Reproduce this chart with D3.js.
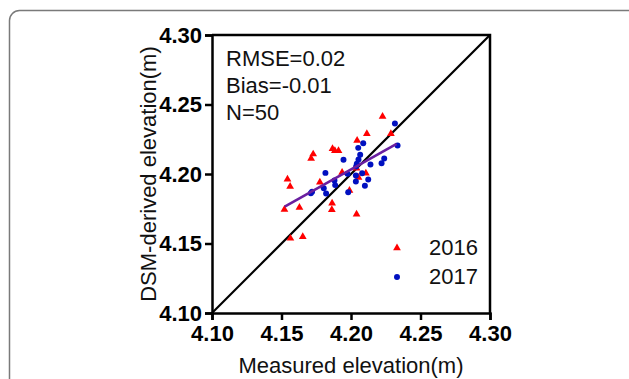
<!DOCTYPE html>
<html>
<head>
<meta charset="utf-8">
<script src="https://cdnjs.cloudflare.com/ajax/libs/d3/7.8.5/d3.min.js"></script>
<style>
    body { margin: 0; background: #fff; }
    svg { display: block; font-family: "Liberation Sans", Arial, sans-serif; }
</style>
</head>
<body>
<div id="chart-container"></div>
<script>
// measured vs DSM-derived, 2016 (triangles)
var measured2016 = [4.2227, 4.2287, 4.2114, 4.2044, 4.1867, 4.1884, 4.1910, 4.1728, 4.1713, 4.1543,
    4.1562, 4.1776, 4.1936, 4.2040, 4.2054, 4.2107, 4.1989, 4.1521, 4.1629, 4.1864,
    4.1862, 4.2040, 4.1564, 4.1653];
var dsm2016 = [4.2413, 4.2289, 4.2289, 4.2241, 4.2181, 4.2167, 4.2167, 4.2143, 4.2111, 4.1963,
    4.1910, 4.1941, 4.2011, 4.2042, 4.1975, 4.2006, 4.1881, 4.1745, 4.1759, 4.1790,
    4.1743, 4.1711, 4.1537, 4.1549];

// 2017 (circles)
var measured2017 = [4.2316, 4.2335, 4.2088, 4.2052, 4.2066, 4.2054, 4.2042, 4.2037, 4.1946, 4.1816,
    4.1975, 4.2035, 4.2080, 4.2140, 4.2220, 4.2239, 4.2124, 4.2035, 4.2100, 4.1881,
    4.1886, 4.1804, 4.1821, 4.1720, 4.1711, 4.1980];
var dsm2017 = [4.2363, 4.2205, 4.2222, 4.2188, 4.2138, 4.2104, 4.2073, 4.2054, 4.2102, 4.2008,
    4.2001, 4.1989, 4.2006, 4.2068, 4.2078, 4.2111, 4.1960, 4.1946, 4.1915, 4.1953,
    4.1920, 4.1898, 4.1860, 4.1872, 4.1862, 4.1869];

var fitLine = [[4.1523, 4.1766], [4.2328, 4.2217]];
var oneToOne = [[4.10, 4.10], [4.30, 4.30]];
var tickValues = [4.10, 4.15, 4.20, 4.25, 4.30];
var statsLines = ["RMSE=0.02", "Bias=-0.01", "N=50"];
var legendLabels = ["2016", "2017"];

var params = {
    w: 629,
    h: 379,
    left: 212,
    right: 490,
    top: 35,
    bottom: 313,
    fontSize: "22px"
};

var svg = d3.select("#chart-container").append("svg")
    .attr("width", params.w).attr("height", params.h);

// card frame
svg.append("rect")
    .attr("x", 9.5).attr("y", 10.5)
    .attr("width", 640).attr("height", 420)
    .attr("rx", 10).attr("ry", 10)
    .attr("fill", "#fff")
    .attr("stroke", "#7a7a7a")
    .attr("stroke-width", 1.5);

var xScale = d3.scaleLinear().domain([4.10, 4.30]).range([params.left, params.right]);
var yScale = d3.scaleLinear().domain([4.10, 4.30]).range([params.bottom, params.top]);

var xAxis = d3.axisBottom(xScale).tickValues(tickValues).tickFormat(d3.format(".2f")).tickSizeOuter(0).tickSize(7).tickPadding(5);
var yAxis = d3.axisLeft(yScale).tickValues(tickValues).tickFormat(d3.format(".2f")).tickSizeOuter(0).tickSize(7).tickPadding(3);

function styleAxis(g) {
    g.select(".domain").attr("stroke", "#000").attr("stroke-width", 2.5);
    g.selectAll(".tick line").attr("stroke", "#000").attr("stroke-width", 2.5);
    g.selectAll(".tick text")
        .attr("fill", "#000")
        .style("font-size", params.fontSize)
        .style("font-weight", "bold");
}

svg.append("g")
    .attr("class", "x-axis")
    .attr("transform", "translate(0," + params.bottom + ")")
    .call(xAxis)
    .call(styleAxis);

svg.append("g")
    .attr("class", "y-axis")
    .attr("transform", "translate(" + params.left + ",0)")
    .call(yAxis)
    .call(styleAxis);

// top and right frame edges
svg.append("path")
    .attr("d", "M" + xScale(4.10) + "," + yScale(4.30) + "H" + xScale(4.30) + "V" + yScale(4.10))
    .attr("fill", "none")
    .attr("stroke", "#000")
    .attr("stroke-width", 2.5);

var line = d3.line()
    .x(function(d) { return xScale(d[0]); })
    .y(function(d) { return yScale(d[1]); });

svg.append("path")
    .datum(oneToOne)
    .attr("d", line)
    .attr("stroke", "#000")
    .attr("stroke-width", 2.2)
    .attr("fill", "none");

var triangle = d3.symbol().type(d3.symbolTriangle).size(26);
var circle = d3.symbol().type(d3.symbolCircle).size(28);

svg.append("g").selectAll("path")
    .data(measured2016)
    .enter()
    .append("path")
    .attr("d", triangle)
    .attr("transform", function(d, i) { return "translate(" + xScale(d) + "," + yScale(dsm2016[i]) + ")"; })
    .attr("fill", "#ff0000");

svg.append("g").selectAll("path")
    .data(measured2017)
    .enter()
    .append("path")
    .attr("d", circle)
    .attr("transform", function(d, i) { return "translate(" + xScale(d) + "," + yScale(dsm2017[i]) + ")"; })
    .attr("fill", "#0010c0");

svg.append("path")
    .datum(fitLine)
    .attr("d", line)
    .attr("stroke", "#6a1fa0")
    .attr("stroke-width", 2.6)
    .attr("fill", "none");

// stats
svg.append("g").selectAll("text")
    .data(statsLines)
    .enter()
    .append("text")
    .attr("x", 226)
    .attr("y", function(d, i) { return 66 + i * 26.8; })
    .style("font-size", params.fontSize)
    .attr("fill", "#111")
    .text(function(d) { return d; });

// legend
var legend = svg.append("g");
legend.append("path")
    .attr("d", triangle)
    .attr("transform", "translate(397,248)")
    .attr("fill", "#ff0000");
legend.append("path")
    .attr("d", circle)
    .attr("transform", "translate(397,277)")
    .attr("fill", "#0010c0");
legend.selectAll("text")
    .data(legendLabels)
    .enter()
    .append("text")
    .attr("x", 429)
    .attr("y", function(d, i) { return 255 + i * 29; })
    .style("font-size", params.fontSize)
    .attr("fill", "#111")
    .text(function(d) { return d; });

// axis titles
svg.append("text")
    .attr("x", (params.left + params.right) / 2)
    .attr("y", 373)
    .attr("text-anchor", "middle")
    .style("font-size", params.fontSize)
    .attr("fill", "#111")
    .text("Measured elevation(m)");

svg.append("text")
    .attr("transform", "translate(156," + (params.top + params.bottom) / 2 + ") rotate(-90)")
    .attr("text-anchor", "middle")
    .style("font-size", params.fontSize)
    .attr("fill", "#111")
    .text("DSM-derived elevation(m)");
</script>
</body>
</html>
